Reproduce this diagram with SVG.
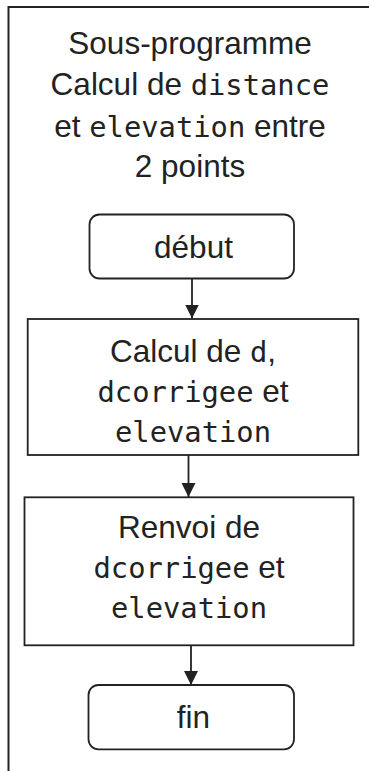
<svg xmlns="http://www.w3.org/2000/svg" width="369" height="771" viewBox="0 0 369 771">
<style>
.frame{fill:none;stroke:#222;stroke-width:2}
.box{fill:#fff;stroke:#222;stroke-width:1.8}
.t{font-family:"Liberation Sans",Arial,sans-serif;font-size:31.5px;fill:#222;text-anchor:middle}
.m{font-family:"DejaVu Sans Mono","Liberation Mono",monospace;font-size:28.8px}
.conn{fill:none;stroke:#222;stroke-width:1.8}
</style>
<defs>
<marker id="ah" markerUnits="userSpaceOnUse" markerWidth="16" markerHeight="16" refX="14" refY="7" orient="auto">
<path d="M0,0 L14,7 L0,14 Z" fill="#222"/>
</marker>
</defs>
<rect width="369" height="771" fill="#fff"/>
<g id="frame">
<path class="frame" d="M8.5,771 L8.5,7 L369,7"/>
<text class="t" x="190" y="54">Sous-programme</text>
<text class="t" x="190" y="95">Calcul de <tspan class="m">distance</tspan></text>
<text class="t" x="190" y="136.5">et <tspan class="m">elevation</tspan> entre</text>
<text class="t" x="190" y="177">2 points</text>
</g>
<g id="connectors">
<line class="conn" x1="192" y1="278.5" x2="192" y2="318.5" marker-end="url(#ah)"/>
<line class="conn" x1="188.5" y1="455" x2="188.5" y2="497" marker-end="url(#ah)"/>
<line class="conn" x1="191" y1="645" x2="191" y2="685" marker-end="url(#ah)"/>
</g>
<g id="debut">
<rect class="box" x="89.5" y="214.5" width="204.5" height="64" rx="10"/>
<text class="t" x="193.5" y="258.3">début</text>
</g>
<g id="calcul">
<rect class="box" x="27.7" y="319" width="330.6" height="136"/>
<text class="t" x="193" y="361.7">Calcul de <tspan class="m">d</tspan>,</text>
<text class="t" x="193" y="401.7"><tspan class="m">dcorrigee</tspan> et</text>
<text class="t" x="193" y="441.7"><tspan class="m">elevation</tspan></text>
</g>
<g id="renvoi">
<rect class="box" x="24.5" y="497.3" width="329" height="148"/>
<text class="t" x="189" y="538.3">Renvoi de</text>
<text class="t" x="189" y="578.3"><tspan class="m">dcorrigee</tspan> et</text>
<text class="t" x="189" y="618.3"><tspan class="m">elevation</tspan></text>
</g>
<g id="fin">
<rect class="box" x="88.5" y="685" width="205.5" height="64.3" rx="10"/>
<text class="t" x="193.5" y="728.3">fin</text>
</g>
</svg>
